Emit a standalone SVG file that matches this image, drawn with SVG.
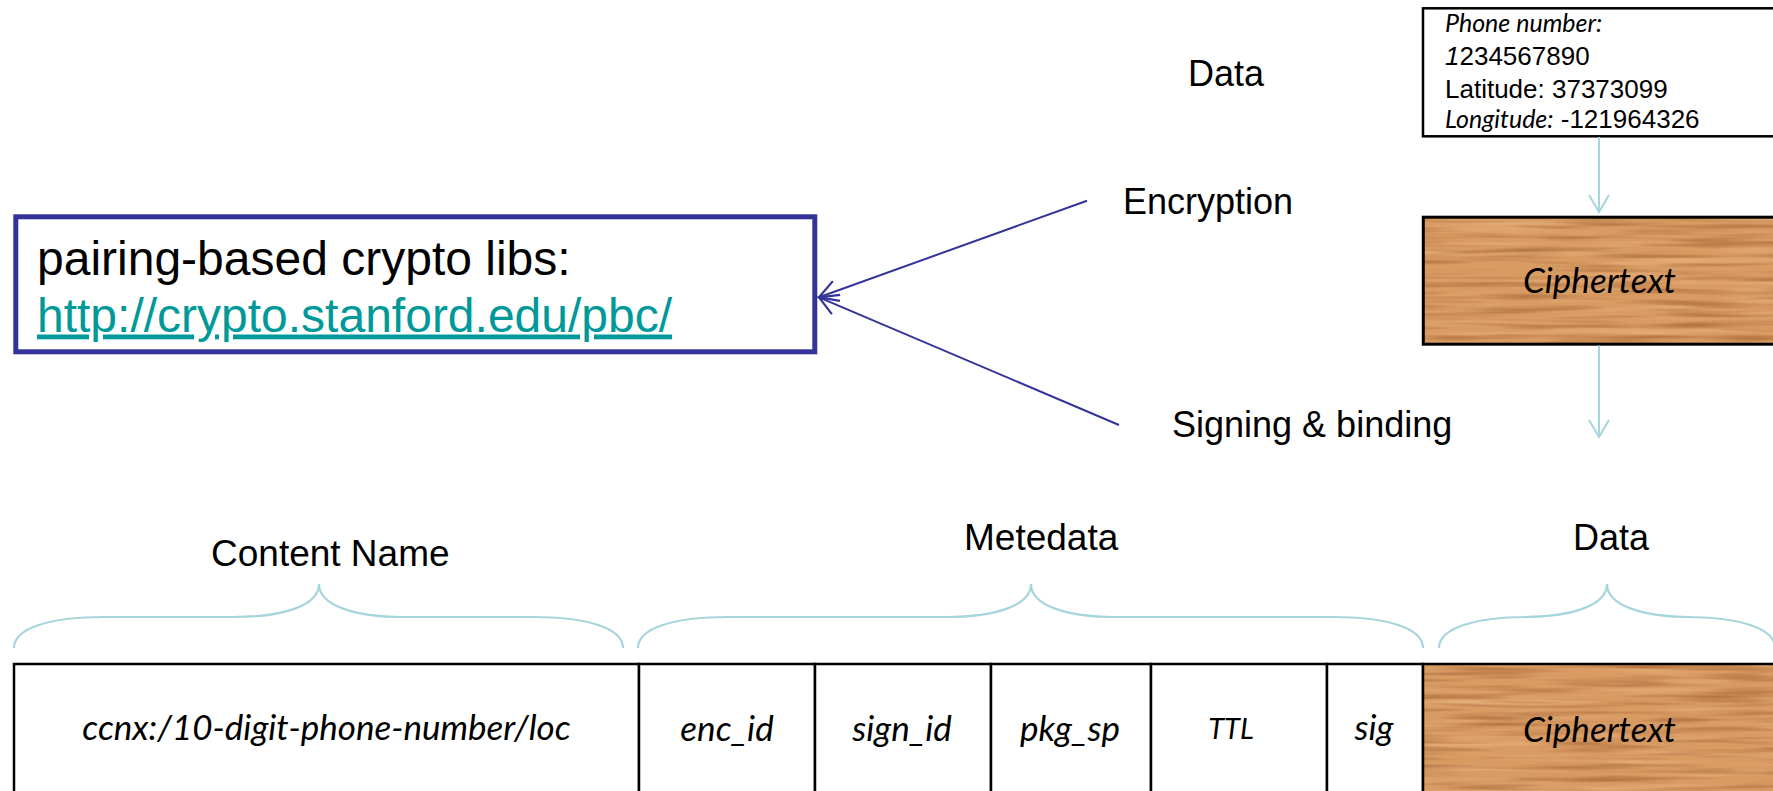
<svg xmlns="http://www.w3.org/2000/svg" width="1773" height="791" viewBox="0 0 1773 791">
  <style>
    .sans { font-family: "Liberation Sans", Arial, sans-serif; fill: #000; }
    .ital { font-family: Lato, "Open Sans", sans-serif; font-style: italic; fill: #000; }
    .lbl { font-size: 36px; }
    .sec { font-size: 37px; }
    .cell { font-size: 35px; text-anchor: middle; }
    .frame { fill: #fff; stroke: #000; stroke-width: 2.5; }
    .wood-edge { fill: none; stroke: #000; stroke-width: 3; }
    .flow { fill: none; stroke: #a6d5dc; stroke-width: 2; }
    .brace { fill: none; stroke: #a6d5dc; stroke-width: 2.2; }
    .link { fill: none; stroke: #333399; stroke-width: 2; }
  </style>
  <defs>
    <marker id="open-blue" viewBox="-22 -13 24 26" refX="0" refY="0" markerWidth="24" markerHeight="26" markerUnits="userSpaceOnUse" orient="auto" overflow="visible">
      <path d="M -18.5,-10.5 L 0,0 L -18.5,10.5" fill="none" stroke="#333399" stroke-width="2.2"/>
    </marker>
    <marker id="open-cyan" viewBox="-20 -12 22 24" refX="0" refY="0" markerWidth="22" markerHeight="24" markerUnits="userSpaceOnUse" orient="auto" overflow="visible">
      <path d="M -17,-10 L 0,0 L -17,10" fill="none" stroke="#a6d5dc" stroke-width="2"/>
    </marker>
    <!-- horizontal wood grain: stretched noise tinted brown -->
    <filter id="grain-dark" x="0" y="0" width="100%" height="100%" color-interpolation-filters="sRGB">
      <feTurbulence type="fractalNoise" baseFrequency="0.009 0.17" numOctaves="2" seed="11" result="n"/>
      <feColorMatrix in="n" type="matrix" values="0 0 0 0 0.66  0 0 0 0 0.41  0 0 0 0 0.22  1.9 0 0 0 -0.85" result="d"/>
      <feComposite in="d" in2="SourceGraphic" operator="in"/>
    </filter>
    <filter id="grain-light" x="0" y="0" width="100%" height="100%" color-interpolation-filters="sRGB">
      <feTurbulence type="fractalNoise" baseFrequency="0.007 0.14" numOctaves="2" seed="4" result="n"/>
      <feColorMatrix in="n" type="matrix" values="0 0 0 0 0.92  0 0 0 0 0.71  0 0 0 0 0.51  -1.9 0 0 0 1.0" result="l"/>
      <feComposite in="l" in2="SourceGraphic" operator="in"/>
    </filter>
  </defs>

  <!-- plain data record -->
  <g id="node-plaintext">
    <rect class="frame" x="1423" y="8.3" width="360" height="128"/>
    <text class="ital" x="1445" y="32.3" font-size="25">Phone number:</text>
    <text class="sans" x="1445" y="65" font-size="26"><tspan font-style="italic">1</tspan>234567890</text>
    <text class="sans" x="1445" y="97.5" font-size="26">Latitude: 37373099</text>
    <text class="sans" x="1445" y="128.3" font-size="26"><tspan class="ital" font-size="25">Longitude:</tspan> -121964326</text>
  </g>

  <!-- encrypted block -->
  <g id="node-ciphertext-top">
    <rect x="1423.3" y="217.2" width="360" height="127" fill="#d89b62"/>
    <rect x="1423.3" y="217.2" width="360" height="127" fill="#000" filter="url(#grain-light)"/>
    <rect x="1423.3" y="217.2" width="360" height="127" fill="#000" filter="url(#grain-dark)"/>
    <rect class="wood-edge" x="1423.3" y="217.2" width="360" height="127"/>
    <text class="ital" x="1599.5" y="293" font-size="35" text-anchor="middle">Ciphertext</text>
  </g>

  <!-- library reference -->
  <g id="node-pbc">
    <rect x="15.8" y="216.8" width="799" height="135" fill="#fff" stroke="#333399" stroke-width="5"/>
    <text class="sans" x="37" y="275" font-size="48">pairing-based crypto libs:</text>
    <text class="sans" x="37" y="331.5" font-size="48" style="fill:#009999" text-decoration="underline">http://crypto.stanford.edu/pbc/</text>
  </g>

  <!-- step labels -->
  <g id="labels">
    <text class="sans lbl" x="1188" y="86">Data</text>
    <text class="sans lbl" x="1123" y="214">Encryption</text>
    <text class="sans lbl" x="1172" y="437">Signing &amp; binding</text>
    <text class="sans sec" x="211" y="566">Content Name</text>
    <text class="sans sec" x="964" y="550">Metedata</text>
    <text class="sans lbl" x="1573" y="550">Data</text>
  </g>

  <g id="connectors">
    <line class="flow" x1="1599" y1="137" x2="1599" y2="212" marker-end="url(#open-cyan)"/>
    <line class="flow" x1="1599" y1="345.5" x2="1599" y2="437" marker-end="url(#open-cyan)"/>
    <line class="link" x1="1087" y1="200.7" x2="819" y2="297.3" marker-end="url(#open-blue)"/>
    <line class="link" x1="1119" y1="425" x2="819" y2="297.3" marker-end="url(#open-blue)"/>
  </g>

  <!-- curly braces over the packet fields -->
  <g id="braces">
    <path class="brace" d="M 14,648 C 14,628 50,617 104,617 L 234,617 C 285,617 319,605 319,584 C 319,605 353,617 404,617 L 533,617 C 587,617 623,628 623,648"/>
    <path class="brace" d="M 638,648 C 638,628 674,617 728,617 L 946,617 C 997,617 1031,605 1031,584 C 1031,605 1065,617 1116,617 L 1333,617 C 1387,617 1423,628 1423,648"/>
    <path class="brace" d="M 1439,648 C 1439,628 1475,617 1529,617 L 1522,617 C 1573,617 1607,605 1607,584 C 1607,605 1641,617 1692,617 L 1685,617 C 1739,617 1775,628 1775,648"/>
  </g>

  <!-- packet layout -->
  <g id="cell-name">
    <rect class="frame" x="14" y="664" width="625" height="150"/>
    <text class="ital cell" x="326.5" y="740">ccnx:/10-digit-phone-number/loc</text>
  </g>
  <g id="cell-enc-id">
    <rect class="frame" x="639" y="664" width="176" height="150"/>
    <text class="ital cell" x="727" y="741">enc_id</text>
  </g>
  <g id="cell-sign-id">
    <rect class="frame" x="815" y="664" width="176" height="150"/>
    <text class="ital cell" x="902" y="741">sign_id</text>
  </g>
  <g id="cell-pkg-sp">
    <rect class="frame" x="991" y="664" width="160" height="150"/>
    <text class="ital cell" x="1070" y="741">pkg_sp</text>
  </g>
  <g id="cell-ttl">
    <rect class="frame" x="1151" y="664" width="176" height="150"/>
    <text class="ital" x="1231" y="739" font-size="29" text-anchor="middle">TTL</text>
  </g>
  <g id="cell-sig">
    <rect class="frame" x="1327" y="664" width="96" height="150"/>
    <text class="ital cell" x="1374" y="740">sig</text>
  </g>
  <g id="cell-data">
    <rect x="1423" y="664" width="360" height="150" fill="#d89b62"/>
    <rect x="1423" y="664" width="360" height="150" fill="#000" filter="url(#grain-light)"/>
    <rect x="1423" y="664" width="360" height="150" fill="#000" filter="url(#grain-dark)"/>
    <rect x="1423" y="664" width="360" height="150" fill="none" stroke="#000" stroke-width="2.5"/>
    <text class="ital" x="1599.5" y="742" font-size="35" text-anchor="middle">Ciphertext</text>
  </g>
</svg>
